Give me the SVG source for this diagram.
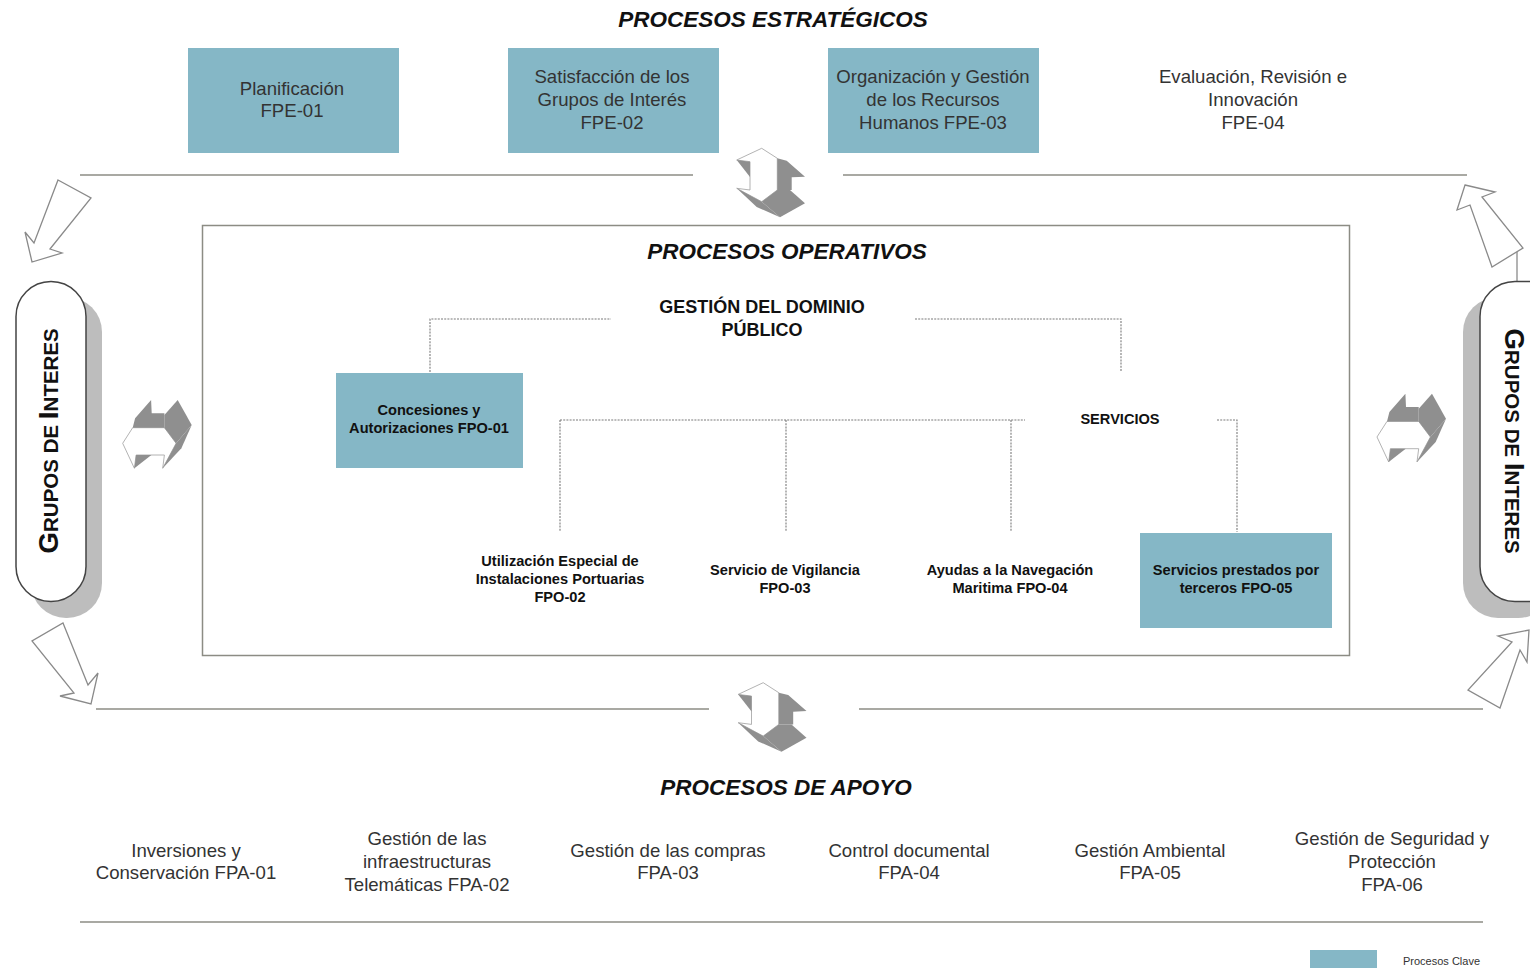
<svg xmlns="http://www.w3.org/2000/svg" width="1530" height="968" viewBox="0 0 1530 968">
<style>
.bg{fill:#ffffff}
.key{fill:#85b7c6}
.t{font-family:"Liberation Sans",Arial,sans-serif;fill:#333333;font-size:18.6px;text-anchor:middle}
.title{font-family:"Liberation Sans",Arial,sans-serif;font-weight:bold;font-style:italic;font-size:22.5px;fill:#111;text-anchor:middle}
.b{font-family:"Liberation Sans",Arial,sans-serif;font-weight:bold;font-size:14.6px;fill:#111;text-anchor:middle}
.bh{font-family:"Liberation Sans",Arial,sans-serif;font-weight:bold;font-size:18px;fill:#111;text-anchor:middle}
.sep{stroke:#8c8c84;stroke-width:1.5;fill:none}
.dot{stroke:#7a7a7a;stroke-width:1.1;stroke-dasharray:2 1.2;fill:none}
.hol{fill:#ffffff;stroke:#8a8a8a;stroke-width:1.3;stroke-linejoin:miter}
.g{fill:#8f8f8f}
.w{fill:#ffffff;stroke:#a0a0a0;stroke-width:0.8}
.pill{fill:#ffffff;stroke:#444;stroke-width:1.5}
.shadow{fill:#bdbdbd}
.gi{font-family:"Liberation Sans",Arial,sans-serif;font-weight:bold;fill:#111;text-anchor:middle}
</style>
<defs>
<g id="dbl">
<polygon class="w" points="761.7,148.3 777.3,158.3 777.3,190 761.7,201.7 736.7,188.3 750,190 750,161.7 736.7,160"/>
<polygon class="g" points="777.3,158.3 786.7,160.7 805,176.7 791.7,177.3 791.7,190 777.3,190"/>
<polygon class="g" points="761.7,201.7 777.3,190 790,190 805,203.3 780,217.3"/>
<polygon class="g" points="736.7,160 750,161.7 750,177"/>
<polygon class="g" points="736.7,188.3 761.7,201.7 780,217.3 756.7,207"/>
</g>
</defs>
<rect class="bg" x="0" y="0" width="1530" height="968"/>

<text class="title" x="773" y="27">PROCESOS ESTRATÉGICOS</text>
<text class="title" x="787" y="259">PROCESOS OPERATIVOS</text>
<text class="title" x="786" y="795">PROCESOS DE APOYO</text>

<g id="connectors">
<line class="sep" x1="80" y1="175" x2="693" y2="175"/>
<line class="sep" x1="843" y1="175" x2="1467" y2="175"/>
<line class="sep" x1="96" y1="709" x2="709" y2="709"/>
<line class="sep" x1="859" y1="709" x2="1483" y2="709"/>
<line class="sep" x1="80" y1="922" x2="1483" y2="922"/>
<rect class="sep" x="202.5" y="225.5" width="1147" height="430"/>
<polyline class="dot" points="430,372 430,319 611,319"/>
<polyline class="dot" points="915,319 1121,319 1121,372"/>
<line class="dot" x1="560" y1="420" x2="1025" y2="420"/>
<line class="dot" x1="560" y1="420" x2="560" y2="532"/>
<line class="dot" x1="786" y1="420" x2="786" y2="532"/>
<line class="dot" x1="1011" y1="420" x2="1011" y2="532"/>
<polyline class="dot" points="1217,420 1237,420 1237,532"/>
<line x1="1517" y1="250" x2="1517" y2="282" stroke="#8a8a8a" stroke-width="1.3"/>
<polygon class="hol" points="58,180 91,198 50,249 62,253 32,262 25,232 34,243"/>
<polygon class="hol" points="63,623 88,685 98,673 91,704 60,696 74,693 32,641"/>
<polygon class="hol" points="1465,185 1495,192 1482,197 1523,248 1492,267 1470,205 1457,210"/>
<polygon class="hol" points="1529,630 1527,662 1520,650 1500,708 1468,690 1512,642 1498,636"/>
<use href="#dbl"/>
<use href="#dbl" transform="translate(1.5,534.4)"/>
<use href="#dbl" transform="translate(122.7,443.3) rotate(-90) translate(-761.7,-148.3)"/>
<use href="#dbl" transform="translate(1377,437) rotate(-90) translate(-761.7,-148.3)"/>
</g>

<g id="fpe01"><rect class="key" x="188" y="48" width="211" height="105"/>
<text class="t" x="292" y="94.5">Planificación</text><text class="t" x="292" y="117">FPE-01</text></g>
<g id="fpe02"><rect class="key" x="508" y="48" width="211" height="105"/>
<text class="t" x="612" y="82.5">Satisfacción de los</text><text class="t" x="612" y="105.5">Grupos de Interés</text><text class="t" x="612" y="128.5">FPE-02</text></g>
<g id="fpe03"><rect class="key" x="828" y="48" width="211" height="105"/>
<text class="t" x="933" y="82.5">Organización y Gestión</text><text class="t" x="933" y="105.5">de los Recursos</text><text class="t" x="933" y="128.5">Humanos FPE-03</text></g>
<g id="fpe04">
<text class="t" x="1253" y="82.5">Evaluación, Revisión e</text><text class="t" x="1253" y="105.5">Innovación</text><text class="t" x="1253" y="128.5">FPE-04</text></g>

<g id="gestion"><text class="bh" x="762" y="312.5">GESTIÓN DEL DOMINIO</text><text class="bh" x="762" y="335.5">PÚBLICO</text></g>
<g id="fpo01"><rect class="key" x="336" y="373" width="187" height="95"/>
<text class="b" x="429" y="415">Concesiones y</text><text class="b" x="429" y="433">Autorizaciones FPO-01</text></g>
<g id="servicios"><text class="b" x="1120" y="424">SERVICIOS</text></g>
<g id="fpo02"><text class="b" x="560" y="566">Utilización Especial de</text><text class="b" x="560" y="584">Instalaciones Portuarias</text><text class="b" x="560" y="602">FPO-02</text></g>
<g id="fpo03"><text class="b" x="785" y="575">Servicio de Vigilancia</text><text class="b" x="785" y="593">FPO-03</text></g>
<g id="fpo04"><text class="b" x="1010" y="575">Ayudas a la Navegación</text><text class="b" x="1010" y="593">Maritima FPO-04</text></g>
<g id="fpo05"><rect class="key" x="1140" y="533" width="192" height="95"/>
<text class="b" x="1236" y="575">Servicios prestados por</text><text class="b" x="1236" y="593">terceros FPO-05</text></g>

<g id="fpa01"><text class="t" x="186" y="856.5">Inversiones y</text><text class="t" x="186" y="879">Conservación FPA-01</text></g>
<g id="fpa02"><text class="t" x="427" y="844.5">Gestión de las</text><text class="t" x="427" y="867.5">infraestructuras</text><text class="t" x="427" y="890.5">Telemáticas FPA-02</text></g>
<g id="fpa03"><text class="t" x="668" y="856.5">Gestión de las compras</text><text class="t" x="668" y="879">FPA-03</text></g>
<g id="fpa04"><text class="t" x="909" y="856.5">Control documental</text><text class="t" x="909" y="879">FPA-04</text></g>
<g id="fpa05"><text class="t" x="1150" y="856.5">Gestión Ambiental</text><text class="t" x="1150" y="879">FPA-05</text></g>
<g id="fpa06"><text class="t" x="1392" y="844.5">Gestión de Seguridad y</text><text class="t" x="1392" y="867.5">Protección</text><text class="t" x="1392" y="890.5">FPA-06</text></g>

<g id="grupos-izq">
<rect class="shadow" x="31" y="297" width="71" height="321" rx="35"/>
<rect class="pill" x="16" y="281.5" width="70" height="320" rx="35"/>
<text class="gi" transform="translate(58,441) rotate(-90)"><tspan font-size="28">G</tspan><tspan font-size="20.5">RUPOS DE </tspan><tspan font-size="28">I</tspan><tspan font-size="20.5">NTERES</tspan></text>
</g>
<g id="grupos-der">
<rect class="shadow" x="1463" y="297" width="90" height="321" rx="35"/>
<rect class="pill" x="1480" y="281.5" width="90" height="320" rx="35"/>
<text class="gi" transform="translate(1505,441) rotate(90)"><tspan font-size="28">G</tspan><tspan font-size="20.5">RUPOS DE </tspan><tspan font-size="28">I</tspan><tspan font-size="20.5">NTERES</tspan></text>
</g>

<g id="legend"><rect class="key" x="1310" y="950" width="67" height="20"/>
<text x="1403" y="965" font-family="Liberation Sans,Arial,sans-serif" font-size="11" fill="#333">Procesos Clave</text></g>
</svg>
